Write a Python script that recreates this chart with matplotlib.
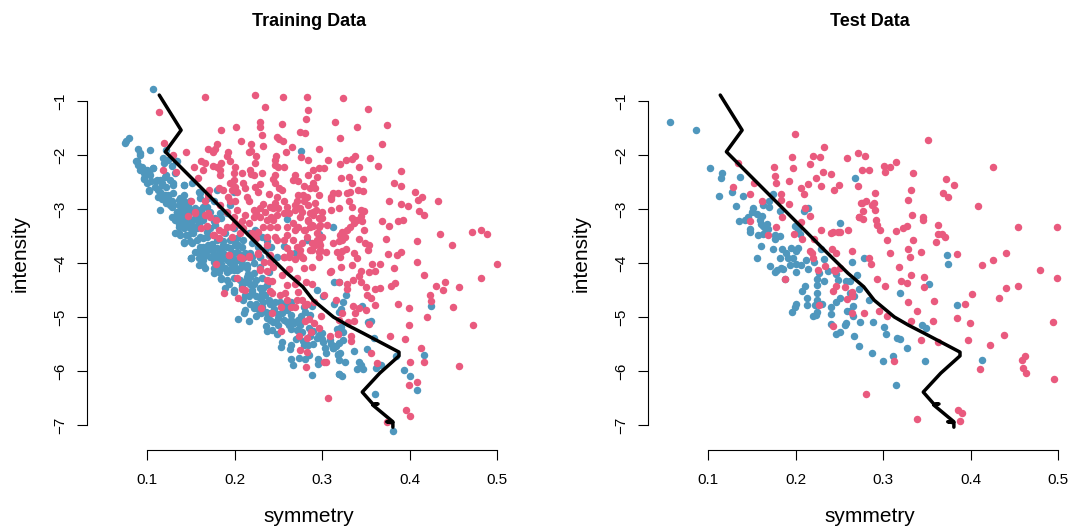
import matplotlib
matplotlib.use("Agg")
import matplotlib.pyplot as plt

# (symmetry, intensity)
train_blue = [
    (.107,-.78),(.075,-1.77),(.079,-1.69),(.076,-1.74),(.103,-1.9),(.09,-1.88),(.092,-1.97),(.087,-2.11),(.09,-2.18),(.092,-2.28),
    (.122,-1.9),(.118,-2.06),(.124,-2.09),(.133,-2.11),(.128,-2.2),(.1,-2.27),(.107,-2.25),(.096,-2.34),(.103,-2.37),(.096,-2.45),
    (.1,-2.52),(.115,-2.46),(.121,-2.4),(.126,-2.46),(.13,-2.52),(.11,-2.49),(.117,-2.56),(.122,-2.59),(.102,-2.67),(.113,-2.65),
    (.119,-2.74),(.112,-2.78),(.117,-2.82),(.124,-2.77),(.13,-2.71),(.122,-2.88),(.128,-2.96),(.115,-3.02),(.142,-2.56),(.151,-2.52),
    (.142,-2.74),(.136,-2.83),(.141,-2.93),(.147,-2.93),(.134,-3.05),(.142,-3.05),(.149,-3.05),(.136,-3.14),(.143,-3.2),(.138,-3.23),
    (.134,-3.17),(.161,-2.71),(.155,-2.99),(.162,-3.05),(.151,-3.2),(.161,-3.11),(.168,-2.96),(.18,-2.65),(.149,-3.33),(.157,-3.36),
    (.142,-3.36),(.136,-3.45),(.147,-3.48),(.142,-3.63),(.151,-3.63),(.161,-3.51),(.168,-3.51),(.161,-3.7),(.17,-3.67),(.157,-3.79),
    (.15,-3.91),(.164,-3.85),(.174,-3.76),(.18,-3.73),(.187,-3.67),(.18,-3.88),(.199,-3.57),(.204,-3.67),(.195,-3.73),(.203,-3.79),
    (.187,-3.82),(.195,-3.91),(.174,-3.88),(.223,-3.39),(.231,-3.51),(.22,-3.63),(.227,-3.7),(.237,-3.6),(.235,-3.76),(.242,-3.7),
    (.256,-3.68),(.183,-3.08),(.195,-2.93),(.176,-2.86),(.17,-2.8),(.199,-2.68),(.26,-3.19),(.283,-3.58),(.276,-1.93),(.269,-3.82),
    (.22,-3.88),(.229,-3.88),(.212,-3.82),(.239,-3.85),(.248,-3.88),(.21,-3.91),(.312,-3.34),(.296,-3.47),
    (.15,-3.91),(.159,-4.04),(.164,-3.94),(.166,-4.1),(.163,-3.82),(.176,-4.19),(.182,-4.16),(.185,-4.3),(.172,-3.88),(.176,-3.98),
    (.18,-3.85),(.187,-3.88),(.184,-4.01),(.191,-3.94),(.195,-4.13),(.189,-4.1),(.199,-4.04),(.204,-3.82),(.208,-4.01),(.214,-4.1),
    (.203,-4.13),(.201,-3.94),(.194,-4.38),(.199,-4.53),(.208,-4.44),(.218,-4.25),(.222,-4.38),(.22,-4.5),(.212,-4.35),(.215,-4.2),
    (.233,-4.47),(.231,-4.56),(.225,-4.62),(.216,-4.62),(.21,-4.69),(.218,-4.75),(.225,-4.75),(.233,-4.72),(.239,-4.69),(.222,-4.84),
    (.231,-4.81),(.241,-4.75),(.212,-4.87),(.211,-4.92),(.204,-5.04),(.216,-5.07),(.225,-4.98),(.241,-4.93),(.237,-5.02),(.244,-5.09),
    (.25,-5.02),(.254,-4.93),(.236,-5.17),(.237,-5.26),(.243,-5.24),(.248,-5.32),(.25,-5.15),(.26,-4.87),(.264,-4.96),(.26,-5.09),
    (.268,-5.12),(.264,-5.23),(.281,-4.9),(.286,-4.96),(.279,-4.81),(.288,-4.8),(.271,-5.24),(.277,-5.27),(.275,-5.15),(.254,-5.47),
    (.253,-5.55),(.264,-5.52),(.263,-5.59),(.286,-5.36),(.294,-5.38),(.301,-5.46),(.284,-5.52),(.279,-5.51),(.303,-5.58),(.304,-5.66),
    (.312,-5.58),(.316,-5.53),(.309,-5.43),(.319,-5.49),(.324,-5.43),(.318,-5.7),(.319,-5.8),(.265,-5.77),(.274,-5.76),(.28,-5.77),
    (.285,-5.7),(.267,-5.88),(.295,-5.78),(.295,-5.87),(.289,-6.07),(.319,-6.05),(.3,-5.29),(.294,-4.5),(.301,-4.62),(.314,-4.36),
    (.314,-4.76),(.319,-4.9),(.319,-4.35),(.327,-4.59),(.324,-4.72),(.346,-4.8),(.322,-4.86),(.425,-4.8),(.353,-5.09),(.356,-5.07),
    (.317,-5.22),(.322,-5.18),(.324,-5.27),(.359,-5.38),(.312,-5.58),(.336,-5.63),(.351,-5.6),(.318,-5.69),(.321,-5.67),(.326,-5.83),
    (.342,-5.84),(.345,-5.89),(.34,-5.96),(.347,-5.97),(.362,-5.95),(.367,-5.89),(.319,-6.05),(.323,-6.1),(.385,-5.73),(.394,-5.99),
    (.401,-6.09),(.409,-6.35),(.416,-5.7),(.361,-6.42),(.381,-7.11),
    # dense band, upper part
    (.092,-2.0),(.089,-2.12),(.094,-2.22),(.098,-2.28),(.102,-2.31),(.107,-2.25),(.096,-2.43),(.105,-2.49),(.102,-2.65),(.111,-2.46),
    (.117,-2.52),(.109,-2.59),(.115,-2.68),(.121,-2.74),(.117,-2.8),(.124,-2.74),(.13,-2.56),(.122,-2.37),(.132,-2.33),(.134,-2.12),
    (.119,-2.15),(.126,-2.93),(.128,-2.86),(.142,-2.56),(.138,-2.8),(.142,-2.86),(.136,-2.93),(.14,-2.99),(.149,-2.86),(.151,-3.02),
    (.136,-3.11),(.142,-3.14),(.134,-3.05),(.147,-2.99),(.159,-2.68),(.161,-2.8),(.155,-3.17),(.136,-3.27),(.143,-3.3),(.151,-3.3),
    (.159,-3.27),(.164,-3.2),(.172,-3.05),(.178,-3.17),(.168,-3.33),(.178,-3.3),(.161,-3.02),
    # dense band, middle part
    (.13,-2.93),(.138,-2.9),(.145,-2.96),(.134,-3.08),(.14,-3.14),(.147,-3.2),(.132,-3.2),(.136,-3.33),(.128,-3.14),(.142,-3.3),
    (.138,-3.48),(.132,-3.45),(.145,-3.48),(.153,-3.45),(.157,-3.2),(.161,-3.11),(.164,-2.96),(.149,-3.36),(.155,-3.33),(.142,-3.62),
    (.149,-3.6),(.157,-3.57),(.164,-3.54),(.172,-3.36),(.176,-3.23),(.164,-3.7),(.17,-3.76),(.155,-3.79),(.15,-3.91),(.159,-3.91),
    (.164,-4.04),(.166,-3.85),(.174,-3.64),(.18,-3.57),(.187,-3.6),(.195,-3.57),(.176,-3.85),(.184,-3.76),(.191,-3.7),(.201,-3.67),
    (.208,-3.7),(.199,-3.82),(.18,-3.94),(.187,-3.91),(.195,-4.0),(.203,-3.94),(.21,-3.88),(.218,-3.82),(.176,-4.1),(.184,-4.1),
    (.191,-4.16),(.199,-4.13),(.206,-4.1),(.214,-4.04),(.222,-4.0),(.229,-3.88),(.184,-4.28),(.191,-4.31),(.199,-4.28),(.206,-4.31),
    (.214,-4.25),(.222,-4.19),(.229,-4.07),(.189,-4.47),(.199,-4.5),(.208,-4.41),(.218,-4.38),(.224,-4.31),(.231,-4.28),(.239,-4.16),
    (.22,-4.53),(.229,-4.47),(.237,-4.41),(.212,-4.59),(.229,-4.65),(.235,-4.59),(.184,-3.17),(.191,-3.08),(.199,-3.36),(.189,-3.45),
    (.168,-3.42),(.203,-3.54),(.216,-3.45),(.21,-3.57),
    # dense band, lower part
    (.236,-4.9),(.245,-4.85),(.25,-4.95),(.24,-5.05),(.256,-5.05),(.265,-5.05),(.262,-5.15),(.272,-5.05),(.276,-4.98),(.285,-5.2),
    (.29,-5.25),(.296,-5.33),(.3,-5.4),(.278,-5.45),(.27,-5.4),(.29,-5.5),(.31,-5.5),(.23,-4.93),(.227,-4.85),(.246,-4.72),
    (.252,-4.72),(.258,-4.77),(.265,-4.72),
]

train_pink = [
    (.114,-1.2),(.166,-.93),(.223,-.89),(.255,-.93),(.283,-.93),(.235,-1.11),(.284,-1.17),(.282,-1.33),(.229,-1.39),(.229,-1.48),
    (.254,-1.42),(.202,-1.48),(.185,-1.54),(.275,-1.57),(.281,-1.6),(.231,-1.63),(.248,-1.66),(.251,-1.71),(.255,-1.75),(.207,-1.75),
    (.119,-1.77),(.219,-1.8),(.18,-1.8),(.178,-1.88),(.17,-1.89),(.175,-1.94),(.232,-1.83),(.266,-1.85),(.145,-1.94),(.193,-1.94),
    (.191,-2.02),(.195,-2.12),(.219,-1.93),(.216,-1.94),(.225,-2.02),(.223,-2.14),(.259,-1.95),(.247,-2.02),(.246,-2.1),(.246,-2.18),
    (.25,-2.23),(.257,-2.22),(.276,-2.03),(.284,-2.1),(.297,-1.89),(.13,-2.0),(.162,-2.11),(.166,-2.14),(.154,-2.22),(.185,-2.15),
    (.175,-2.2),(.18,-2.23),(.183,-2.28),(.183,-2.37),(.201,-2.23),(.199,-2.34),(.164,-2.28),(.118,-2.28),(.133,-2.31),(.158,-2.43),
    (.209,-2.33),(.218,-2.28),(.219,-2.35),(.222,-2.37),(.231,-2.33),(.229,-2.54),(.246,-2.37),(.244,-2.44),(.246,-2.52),(.251,-2.62),
    (.254,-2.65),(.269,-2.37),(.267,-2.46),(.273,-2.49),(.279,-2.57),(.284,-2.37),(.29,-2.28),(.296,-2.25),(.294,-2.4),(.29,-2.52),
    (.286,-2.62),(.292,-2.62),(.199,-2.46),(.195,-2.52),(.201,-2.59),(.21,-2.52),(.212,-2.62),(.197,-2.65),(.203,-2.68),(.171,-2.65),
    (.182,-2.62),(.187,-2.65),(.17,-2.74),(.166,-2.86),(.223,-2.59),(.227,-2.68),(.239,-2.72),(.214,-2.77),(.216,-2.85),(.192,-2.77),
    (.195,-2.85),(.201,-2.86),(.273,-2.74),(.278,-2.74),(.283,-2.78),(.279,-2.86),(.271,-2.86),(.269,-2.93),(.256,-2.85),(.248,-2.78),
    (.246,-2.89),(.244,-2.99),(.233,-2.91),(.222,-3.01),(.229,-2.99),(.235,-3.05),(.225,-3.08),(.229,-3.14),(.15,-2.85),(.292,-2.89),
    (.296,-2.74),(.212,-3.11),(.208,-3.23),(.216,-3.26),(.201,-3.26),(.262,-3.08),(.256,-3.08),(.248,-3.11),(.242,-3.14),(.237,-3.2),
    (.244,-3.2),(.233,-3.33),(.241,-3.33),(.269,-3.02),(.277,-3.05),(.267,-3.26),(.269,-3.39),(.279,-3.39),(.29,-3.05),(.284,-3.2),
    (.289,-3.3),(.296,-3.33),(.294,-3.45),(.296,-3.17),(.191,-3.33),(.197,-3.33),(.187,-3.42),(.206,-3.45),(.197,-3.51),(.206,-3.3),
    (.17,-3.08),(.166,-3.11),(.179,-3.2),(.155,-3.07),(.147,-3.13),(.168,-3.31),(.162,-3.36),(.182,-3.39),(.175,-3.49),(.182,-3.53),
    (.22,-3.45),(.227,-3.42),(.237,-3.67),(.225,-3.54),(.246,-3.51),(.256,-3.57),(.26,-3.73),(.271,-3.7),(.277,-3.63),(.263,-3.82),
    (.281,-3.39),(.294,-3.57),(.286,-3.76),(.298,-3.76),(.275,-3.85),(.194,-3.85),(.216,-3.88),(.227,-3.82),(.206,-3.88),(.286,-3.08),
    (.297,-3.62),(.324,-.94),(.353,-1.15),(.315,-1.38),(.34,-1.48),(.374,-1.44),(.321,-1.69),(.368,-1.79),(.355,-2.05),(.338,-2.01),
    (.334,-2.08),(.327,-2.1),(.321,-2.17),(.307,-2.09),(.342,-2.23),(.364,-2.2),(.39,-2.29),(.302,-2.24),(.322,-2.43),(.331,-2.4),
    (.334,-2.52),(.347,-2.44),(.382,-2.52),(.39,-2.57),(.341,-2.64),(.347,-2.67),(.332,-2.68),(.329,-2.7),(.312,-2.7),(.31,-2.77),
    (.31,-2.82),(.318,-2.71),(.406,-2.69),(.414,-2.77),(.41,-2.83),(.433,-2.86),(.377,-2.85),(.39,-2.9),(.398,-2.94),(.331,-2.85),
    (.334,-2.96),(.319,-2.99),(.31,-3.01),(.293,-3.01),(.29,-3.11),(.3,-3.06),(.3,-3.16),(.411,-3.04),(.417,-3.12),(.344,-3.02),
    (.348,-3.03),(.344,-3.13),(.346,-3.23),(.34,-3.2),(.334,-3.16),(.369,-3.22),(.387,-3.22),(.392,-3.21),(.377,-3.32),(.348,-3.38),
    (.336,-3.26),(.332,-3.33),(.328,-3.39),(.323,-3.42),(.321,-3.48),(.298,-3.3),(.306,-3.3),(.29,-3.31),(.284,-3.22),(.326,-3.51),
    (.323,-3.57),(.3,-3.51),(.435,-3.47),(.471,-3.43),(.482,-3.39),(.488,-3.46),(.373,-3.55),(.342,-3.56),(.349,-3.63),(.354,-3.67),
    (.353,-3.76),(.408,-3.6),(.448,-3.66),(.313,-3.63),(.319,-3.6),(.327,-3.74),(.317,-3.79),(.323,-3.77),(.292,-3.67),(.298,-3.67),
    (.304,-3.79),(.297,-3.79),(.288,-3.76),(.375,-3.83),(.39,-3.8),(.386,-3.86),(.337,-3.82),(.34,-3.91),(.32,-3.89),(.297,-3.88),
    (.277,-3.88),(.5,-4.02),(.408,-3.99),(.482,-4.27),(.416,-4.23),(.382,-4.1),(.366,-4.02),(.357,-4.02),(.36,-4.14),(.354,-4.17),
    (.344,-4.14),(.342,-4.24),(.334,-4.03),(.322,-4.07),(.441,-4.36),(.43,-4.42),(.438,-4.5),(.457,-4.44),(.383,-4.37),(.379,-4.43),
    (.366,-4.46),(.361,-4.48),(.356,-4.64),(.345,-4.35),(.35,-4.44),(.351,-4.59),(.335,-4.31),(.329,-4.38),(.328,-4.49),(.319,-4.35),
    (.423,-4.59),(.425,-4.71),(.361,-4.77),(.387,-4.75),(.399,-4.83),(.45,-4.81),(.316,-4.69),(.335,-4.79),(.342,-4.84),(.35,-4.87),
    (.338,-4.93),(.323,-4.93),(.42,-5.0),(.399,-5.15),(.473,-5.15),(.336,-5.07),(.33,-5.09),(.319,-5.06),(.354,-5.13),(.378,-5.36),
    (.395,-5.41),(.333,-5.35),(.333,-5.44),(.318,-5.32),(.413,-5.57),(.356,-5.67),(.4,-5.83),(.417,-5.83),(.363,-5.86),(.457,-5.91),
    (.409,-6.2),(.399,-6.26),(.396,-6.72),(.401,-6.84),(.374,-6.94),(.307,-6.5),
    (.194,-3.85),(.179,-4.02),(.209,-3.91),(.216,-3.87),(.227,-3.83),(.203,-4.28),(.188,-4.56),(.204,-4.64),(.208,-4.49),(.212,-4.5),
    (.23,-4.83),(.243,-4.93),(.253,-4.82),(.253,-5.26),(.234,-3.98),(.241,-3.98),(.229,-4.13),(.237,-4.14),(.256,-3.88),(.262,-3.88),
    (.269,-3.93),(.278,-3.9),(.244,-4.07),(.262,-4.12),(.254,-4.22),(.279,-4.1),(.288,-4.07),(.239,-4.33),(.243,-4.33),(.241,-4.51),
    (.243,-4.55),(.26,-4.41),(.258,-4.56),(.252,-4.59),(.26,-4.69),(.271,-4.28),(.269,-4.38),(.273,-4.53),(.271,-4.69),(.282,-4.35),
    (.288,-4.38),(.277,-4.69),(.283,-4.75),(.281,-4.78),(.291,-4.72),(.264,-4.81),(.269,-4.81),(.28,-5.07),(.285,-5.04),(.291,-5.12),
    (.296,-5.21),(.299,-4.98),(.274,-5.35),(.287,-5.27),(.283,-5.38),(.275,-5.62),(.283,-5.65),(.282,-5.93),(.302,-5.84),(.305,-5.83),
    (.309,-5.35),(.318,-5.32),(.309,-4.16),(.31,-4.14),(.302,-4.59),(.155,-3.06),(.176,-3.48),(.229,-4.12),(.237,-4.31),
    (.241,-2.96),(.25,-2.99),(.26,-2.96),(.275,-2.99),(.284,-2.93),(.275,-3.14),(.248,-3.33),(.26,-3.33),(.273,-3.33),(.286,-3.33),
    (.26,-3.48),(.248,-3.57),(.237,-3.51),(.283,-3.51),(.288,-3.63),(.267,-3.57),(.275,-3.76),(.256,-3.88),(.241,-3.85),(.222,-3.14),
    (.203,-3.02),(.183,-2.93),(.191,-3.05),(.172,-3.14),(.21,-3.36),(.199,-3.14),
]

test_blue = [
    (.057,-1.38),(.086,-1.54),(.102,-2.24),(.116,-2.34),(.115,-2.43),(.137,-2.41),(.113,-2.76),(.127,-2.69),(.14,-2.76),(.132,-2.94),
    (.151,-2.99),(.15,-3.05),(.156,-3.09),(.162,-3.13),(.146,-3.15),(.142,-3.2),(.135,-3.23),(.159,-3.2),(.161,-3.27),(.163,-3.31),
    (.167,-3.28),(.165,-3.35),(.168,-3.37),(.148,-3.37),(.148,-3.43),(.157,-3.49),(.163,-3.46),(.177,-3.49),(.177,-3.56),(.182,-3.5),
    (.161,-3.69),(.174,-3.75),(.156,-3.91),(.185,-3.75),(.189,-3.82),(.191,-3.9),(.197,-3.91),(.195,-3.73),(.203,-3.72),(.2,-3.78),
    (.182,-3.91),(.171,-4.05),(.183,-4.09),(.179,-4.13),(.194,-4.04),(.2,-4.02),(.206,-4.04),(.212,-3.95),(.221,-3.98),(.233,-3.92),
    (.229,-3.75),(.214,-4.12),(.264,-3.98),(.17,-2.85),(.174,-2.73),(.163,-2.93),(.17,-2.97),(.182,-3.03),(.21,-3.03),(.214,-2.99),
    (.199,-3.31),(.203,-3.39),(.205,-3.47),(.251,-3.26),(.268,-2.43),(.373,-3.85),(.374,-4.01),(.278,-3.9),(.27,-4.22),
    (.177,-4.16),(.186,-4.12),(.188,-4.3),(.2,-4.17),(.225,-4.3),(.227,-4.19),(.225,-4.41),(.232,-4.34),(.237,-4.14),(.246,-4.2),
    (.249,-4.31),(.258,-4.33),(.262,-4.33),(.211,-4.43),(.207,-4.51),(.225,-4.55),(.273,-4.48),(.262,-4.56),(.267,-4.62),(.251,-4.65),
    (.246,-4.73),(.241,-4.81),(.284,-4.69),(.213,-4.65),(.224,-4.68),(.23,-4.76),(.222,-4.78),(.213,-4.78),(.201,-4.75),(.199,-4.81),
    (.196,-4.91),(.225,-4.91),(.223,-4.96),(.22,-4.99),(.241,-4.95),(.259,-4.88),(.262,-4.88),(.266,-4.8),(.266,-4.99),(.274,-5.1),
    (.289,-5.1),(.301,-5.18),(.303,-5.31),(.316,-5.38),(.319,-5.41),(.24,-5.13),(.258,-5.12),(.256,-5.15),(.251,-5.27),(.246,-5.31),
    (.267,-5.35),(.272,-5.54),(.287,-5.66),(.3,-5.81),(.311,-5.73),(.315,-6.25),(.319,-4.56),(.352,-4.38),(.385,-4.77),(.345,-5.15),
    (.349,-5.2),(.327,-5.57),(.348,-5.81),(.413,-5.8),
]

test_pink = [
    (.199,-1.61),(.233,-1.86),(.134,-2.14),(.196,-2.03),(.22,-2.02),(.228,-2.03),(.271,-1.96),(.259,-2.06),(.217,-2.16),(.175,-2.22),
    (.197,-2.25),(.231,-2.31),(.241,-2.35),(.177,-2.39),(.223,-2.42),(.193,-2.48),(.178,-2.52),(.152,-2.51),(.129,-2.59),(.214,-2.54),
    (.206,-2.61),(.229,-2.58),(.25,-2.55),(.244,-2.65),(.271,-2.58),(.148,-2.72),(.21,-2.73),(.183,-2.73),(.162,-2.85),(.183,-2.84),
    (.193,-2.91),(.211,-2.98),(.184,-3.14),(.216,-3.13),(.206,-3.24),(.178,-3.33),(.148,-3.23),(.168,-3.49),(.198,-3.47),(.207,-3.56),
    (.221,-3.55),(.229,-3.39),(.24,-3.45),(.243,-3.42),(.248,-3.42),(.251,-3.42),(.26,-3.38),(.273,-3.14),(.276,-2.88),(.242,-3.74),
    (.246,-3.81),(.265,-3.78),(.217,-3.78),(.219,-3.82),(.22,-3.91),(.234,-4.06),(.251,-4.1),(.244,-4.13),(.226,-4.13),
    (.351,-1.72),(.279,-2.01),(.315,-2.13),(.301,-2.21),(.308,-2.23),(.276,-2.27),(.284,-2.27),(.302,-2.31),(.334,-2.33),(.426,-2.22),
    (.372,-2.45),(.381,-2.55),(.332,-2.65),(.291,-2.71),(.369,-2.71),(.374,-2.77),(.329,-2.83),(.275,-2.88),(.28,-2.85),(.29,-2.89),
    (.287,-2.92),(.408,-2.95),(.291,-3.02),(.277,-3.04),(.333,-3.12),(.273,-3.14),(.277,-3.18),(.346,-3.15),(.346,-3.2),(.292,-3.2),
    (.293,-3.3),(.363,-3.29),(.323,-3.35),(.327,-3.32),(.296,-3.39),(.315,-3.41),(.454,-3.34),(.499,-3.33),(.363,-3.47),(.367,-3.46),
    (.371,-3.52),(.334,-3.57),(.361,-3.61),(.305,-3.58),(.328,-3.74),(.308,-3.82),(.343,-3.8),(.385,-3.83),(.331,-3.89),(.284,-3.91),
    (.286,-4.01),(.441,-3.82),(.426,-3.94),(.413,-4.04),(.318,-4.08),(.479,-4.13),(.499,-4.28),(.332,-4.22),(.347,-4.25),(.293,-4.3),
    (.321,-4.33),(.188,-4.3),(.245,-4.15),(.302,-4.43),(.246,-4.43),(.243,-4.51),(.257,-4.45),(.265,-4.53),(.264,-4.61),(.259,-4.67),
    (.227,-4.77),(.265,-4.92),(.278,-4.92),(.295,-4.88),(.305,-4.98),(.243,-5.17),(.28,-6.42),(.312,-5.82),(.327,-4.37),(.347,-4.45),
    (.454,-4.43),(.44,-4.46),(.402,-4.57),(.432,-4.65),(.394,-4.75),(.329,-4.72),(.358,-4.71),(.339,-4.89),(.385,-5.02),(.399,-5.11),
    (.357,-5.07),(.332,-5.07),(.494,-5.1),(.343,-5.42),(.397,-5.42),(.438,-5.34),(.363,-5.47),(.422,-5.52),(.462,-5.72),(.459,-5.8),
    (.411,-5.96),(.46,-5.95),(.463,-6.04),(.495,-6.15),(.339,-6.89),(.386,-6.73),(.39,-6.78),(.388,-6.93),
]

boundary = [
    (.114,-.89),(.139,-1.54),(.121,-1.94),(.233,-3.76),(.26,-4.19),(.278,-4.44),(.29,-4.69),(.313,-5.0),(.329,-5.15),(.347,-5.3),
    (.388,-5.65),(.388,-5.72),(.366,-6.04),(.346,-6.39),(.358,-6.61),(.364,-6.61),(.358,-6.63),(.381,-6.94),(.374,-6.94),(.381,-6.96),(.381,-7.04),
]

panels = [("Training Data", train_blue, train_pink, 87), ("Test Data", test_blue, test_pink, 648)]
x_ticks = [0.1, 0.2, 0.3, 0.4, 0.5]
y_ticks = [-1, -2, -3, -4, -5, -6, -7]

BLUE = "#4F97BD"
PINK = "#E95A7E"

plt.rcParams["font.family"] = ["Liberation Sans", "DejaVu Sans"]
W, H = 1076, 532
AXIS_Y = 450  # pixel row of the x axis
TOP_Y = 78
BOX_W = 424
BOX_H = AXIS_Y - TOP_Y
fig = plt.figure(figsize=(W / 100, H / 100), dpi=100)

for title, blue, pink, left in panels:
    # axes box in pixels, limits chosen so that the ticks land where they do in the reference
    ax = fig.add_axes([left / W, (H - AXIS_Y) / H, BOX_W / W, BOX_H / H])
    ax.set_xlim(0.1 - 60 / 875, 0.1 + (BOX_W - 60) / 875)
    ax.set_ylim(-1 - (AXIS_Y - 101) / 54, -1 + (101 - TOP_Y) / 54)
    ax.scatter(*zip(*blue), s=29, color=BLUE, linewidths=0, clip_on=False)
    ax.scatter(*zip(*pink), s=29, color=PINK, linewidths=0, clip_on=False)
    ax.plot(*zip(*boundary), color="black", lw=2.5, solid_joinstyle="round", solid_capstyle="round", clip_on=False)

    ax.spines["top"].set_visible(False)
    ax.spines["right"].set_visible(False)
    ax.spines["bottom"].set_bounds(0.1, 0.5)
    ax.spines["left"].set_bounds(-7, -1)
    ax.spines["bottom"].set_linewidth(0.8)
    ax.spines["left"].set_linewidth(0.8)
    ax.set_xticks(x_ticks)
    ax.set_xticklabels(["0.1", "0.2", "0.3", "0.4", "0.5"])
    ax.set_yticks(y_ticks)
    ax.set_yticklabels(["\u22121", "\u22122", "\u22123", "\u22124", "\u22125", "\u22126", "\u22127"], rotation=90, va="center")
    ax.tick_params(length=7.2, width=0.8, labelsize=11)
    ax.tick_params(axis="x", pad=9)
    ax.tick_params(axis="y", pad=7)
    ax.set_xlabel("symmetry", fontsize=15, va="center")
    ax.xaxis.set_label_coords(222 / BOX_W, -(516 - AXIS_Y) / BOX_H)
    ax.set_ylabel("intensity", fontsize=15, va="center")
    ax.yaxis.set_label_coords(-67 / BOX_W, (AXIS_Y - 254) / BOX_H)
    fig.text((left + 222) / W, (H - 22) / H, title, fontsize=13, fontweight="bold", ha="center", va="center")

fig.savefig("out.png", dpi=100)
